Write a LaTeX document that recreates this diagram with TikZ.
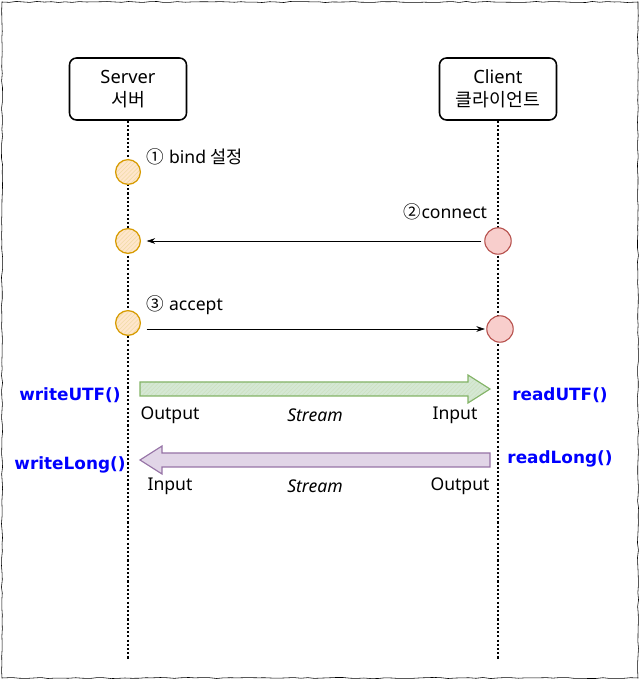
\documentclass[tikz,border=0pt]{standalone}
\usepackage{fontspec}
\setmainfont{Noto Sans}
\newfontfamily\kr{Noto Sans CJK KR}
\newfontfamily\callfont{DejaVu Sans}
\usetikzlibrary{arrows.meta}
\usetikzlibrary{calc}
\usetikzlibrary{patterns,decorations.pathmorphing,positioning}

\definecolor{srvline}{HTML}{D79B00}
\definecolor{srvfill}{HTML}{FFE6CC}
\definecolor{cltline}{HTML}{B85450}
\definecolor{cltfill}{HTML}{F8CECC}
\definecolor{outline}{HTML}{82B366}
\definecolor{outfill}{HTML}{D5E8D4}
\definecolor{inline}{HTML}{9673A6}
\definecolor{infill}{HTML}{E1D5E7}
\definecolor{callblue}{HTML}{0000FF}

\tikzset{
    sketch/.style={decorate, decoration={random steps, segment length=5pt, amplitude=0.4pt}},
    txt/.style={font=\fontsize{12.5}{15}\selectfont}
}

\begin{document}
\begin{tikzpicture}[
        actor/.style={draw, line width=1.1pt, rounded corners=5pt, minimum width=2.925cm,
            minimum height=1.55cm, align=center, font=\fontsize{13}{16}\selectfont},
        lifeline/.style={line width=0.9pt, dash pattern=on 1.5pt off 1.5pt},
        srvpt/.style={circle, draw=srvline, line width=0.9pt, minimum size=0.62cm,
            preaction={fill=srvfill}, pattern=north east lines, pattern color=srvline!35},
        cltpt/.style={circle, draw=cltline, line width=0.8pt, minimum size=0.66cm, fill=cltfill},
        msg/.style={-{Stealth[length=6pt,width=4pt]}, thin},
        streamout/.style={draw=outline, line width=0.8pt, preaction={fill=outfill},
            pattern=north east lines, pattern color=outline!40},
        streamin/.style={draw=inline, line width=0.8pt, fill=infill},
        call/.style={text=callblue, font=\callfont\bfseries\fontsize{12}{14}\selectfont}
    ]
        \useasboundingbox (0,0) rectangle (16.025,17.025);

        % Outer frame
        \draw[thin, sketch] (0.05,0.075) rectangle (15.95,16.975);

        % Actors with lifelines
        \node[actor] (server) at (3.2,14.8) {Server\\{\kr 서버}};
        \node[actor] (client) at (12.45,14.8) {Client\\{\kr 클라이언트}};
        \coordinate (bottom) at (0,0.525);
        \draw[lifeline] (server.south) -- (server |- bottom);
        \draw[lifeline] (client.south) -- (client |- bottom);

        % Socket steps
        \node[srvpt] (s1) at (3.2,12.725) {};
        \node[srvpt] (s2) at (3.2,11.0) {};
        \node[srvpt] (s3) at (3.2,8.95) {};
        \node[cltpt] (c2) at (12.45,11.0) {};
        \node[cltpt] (c3) at (12.5,8.8) {};

        \node[txt, anchor=west] (bind) at (3.55,13.1) {{\kr ①} bind {\kr 설정}};
        \node[txt, anchor=east] (connect) at (12.3,11.72) {{\kr ②}connect};
        \node[txt, anchor=west] (accept) at (3.55,9.4) {{\kr ③} accept};

        \draw[msg, shorten <=2pt, shorten >=4pt] (c2.west) -- (s2.east |- c2);
        \draw[msg, shorten <=4pt, shorten >=1pt] (s3.east |- c3) -- (c3.west);

        % Output stream (server to client)
        \coordinate (outL) at (3.5,7.3);
        \coordinate (outR) at (12.25,7.3);
        \draw[streamout] ($(outL)+(0,0.175)$) -- ($(outR)+(-0.55,0.175)$) -- ++(0,0.175)
            -- (outR) -- ++(-0.55,-0.35) -- ++(0,0.175) -- ($(outL)+(0,-0.175)$) -- cycle;

        \node[call] (wutf) at (1.75,7.15) {writeUTF()};
        \node[call] (rutf) at (14.0,7.15) {readUTF()};
        \node[txt] (o1) at (4.25,6.65) {Output};
        \node[txt] (st1) at (7.875,6.65) {\itshape Stream};
        \node[txt] (i1) at (11.375,6.65) {Input};

        % Input stream (client to server)
        \coordinate (inL) at (3.5,5.525);
        \coordinate (inR) at (12.25,5.525);
        \draw[streamin] ($(inR)+(0,0.175)$) -- ($(inL)+(0.55,0.175)$) -- ++(0,0.175)
            -- (inL) -- ++(0.55,-0.35) -- ++(0,0.175) -- ($(inR)+(0,-0.175)$) -- cycle;

        \node[call] (wlong) at (1.75,5.4) {writeLong()};
        \node[call] (rlong) at (14.0,5.55) {readLong()};
        \node[txt] (i2) at (4.25,4.875) {Input};
        \node[txt] (st2) at (7.875,4.875) {\itshape Stream};
        \node[txt] (o2) at (11.5,4.875) {Output};
    \end{tikzpicture}
\end{document}
